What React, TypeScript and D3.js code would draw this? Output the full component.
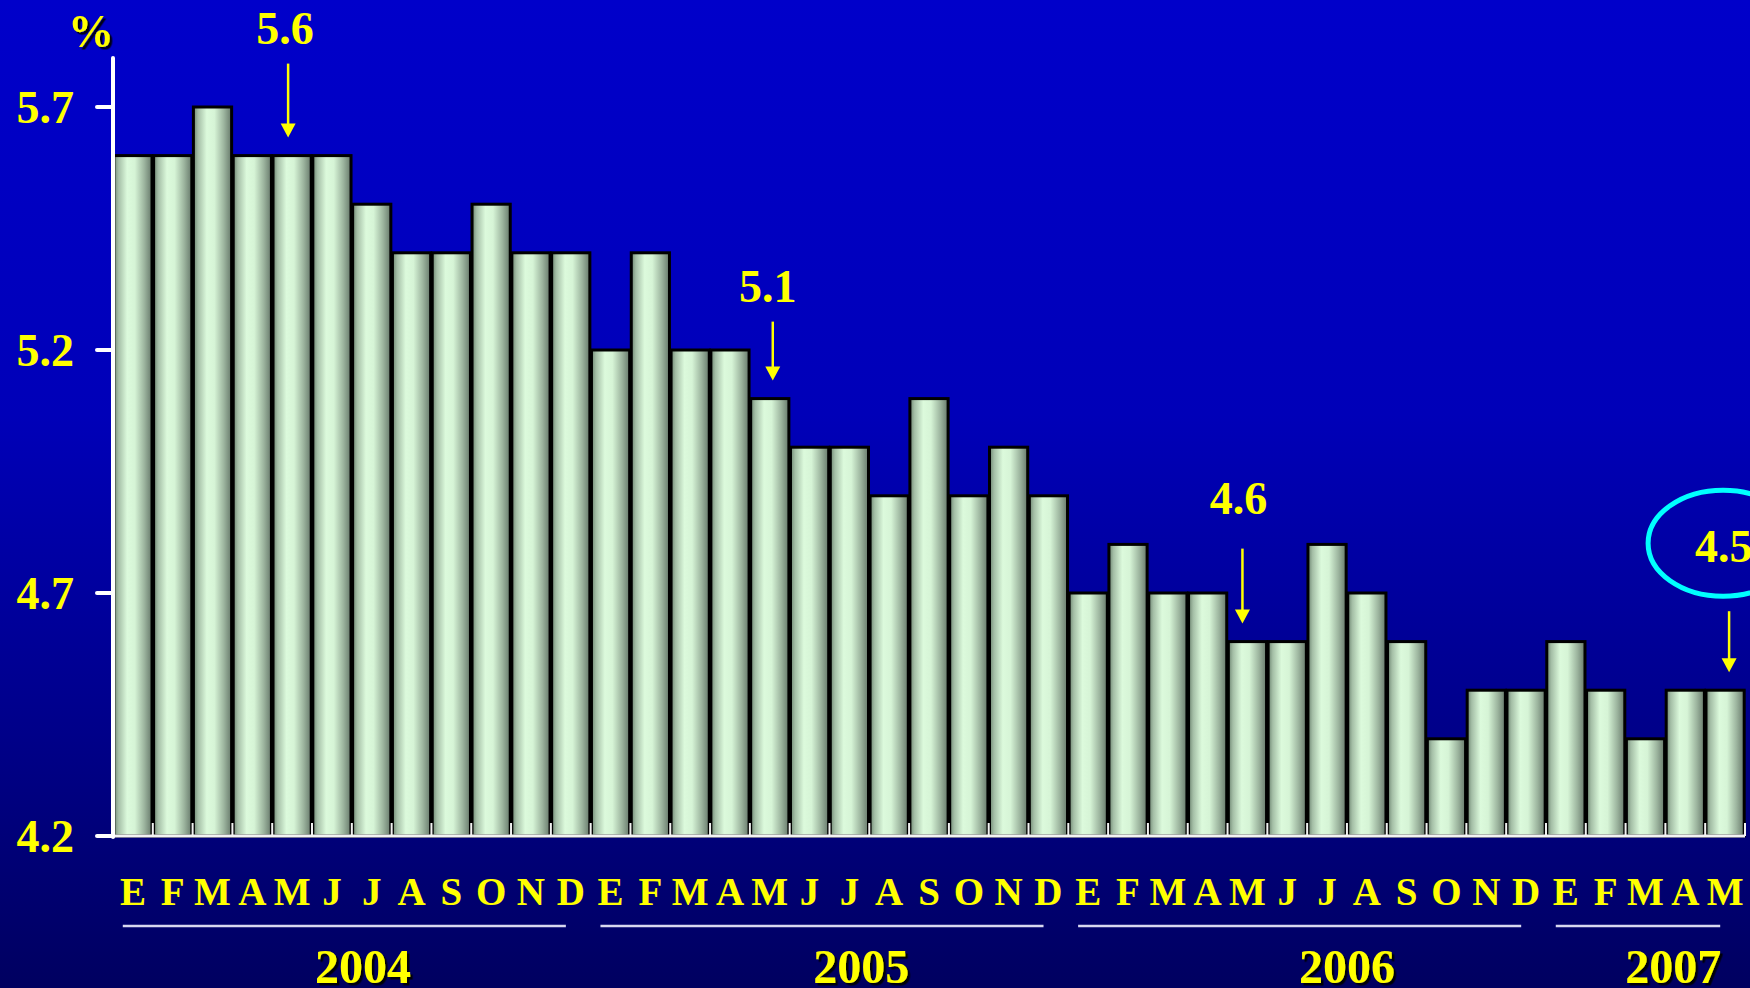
import React, { useEffect } from "react";
import * as d3 from "d3";

const months = ["E", "F", "M", "A", "M", "J", "J", "A", "S", "O", "N", "D"];
const years = ["2004", "2005", "2006", "2007"];
const values2004 = [5.6, 5.6, 5.7, 5.6, 5.6, 5.6, 5.5, 5.4, 5.4, 5.5, 5.4, 5.4];
const values2005 = [5.2, 5.4, 5.2, 5.2, 5.1, 5.0, 5.0, 4.9, 5.1, 4.9, 5.0, 4.9];
const values2006 = [4.7, 4.8, 4.7, 4.7, 4.6, 4.6, 4.8, 4.7, 4.6, 4.4, 4.5, 4.5];
const values2007 = [4.6, 4.5, 4.4, 4.5, 4.5];
const yTicks = [4.2, 4.7, 5.2, 5.7];
const callouts = [
  { year: "2004", month: 4, label: "5.6" },
  { year: "2005", month: 4, label: "5.1" },
  { year: "2006", month: 4, label: "4.6" },
  { year: "2007", month: 4, label: "4.5" },
];

const W = 1750;
const H = 988;
const FONT = "'Liberation Serif', 'Times New Roman', serif";
const YELLOW = "#FFFF00";

export default function App() {
  useEffect(() => {
    document.body.style.margin = "0";
  }, []);

  const series = [values2004, values2005, values2006, values2007];
  const bars: { key: string; year: string; month: string; mi: number; value: number; i: number }[] = [];
  series.forEach((vals, yi) => {
    vals.forEach((v, mi) => {
      bars.push({ key: `${years[yi]}-${mi}`, year: years[yi], month: months[mi], mi, value: v, i: bars.length });
    });
  });

  const x = d3
    .scaleBand<string>()
    .domain(bars.map((b) => b.key))
    .range([113, 1745])
    .paddingInner(0.04)
    .paddingOuter(0.02);
  const step = x.step();
  const bw = x.bandwidth();
  const y = d3.scaleLinear().domain([4.2, 5.7]).range([836, 107]);
  const y0 = y(4.2);

  // per-callout layout (arrow length, text gap, horizontal nudges)
  const calloutLayout = [
    { arrowLen: 74, textGap: 20, tdx: -7, adx: -4 },
    { arrowLen: 59, textGap: 20, tdx: -2, adx: 3 },
    { arrowLen: 75, textGap: 35, tdx: -9, adx: -5 },
    { arrowLen: 61, textGap: 49, tdx: 0, adx: 4 },
  ];
  // year label positions, as fractional bar index from the year's first bar
  const yearLabelOffset = [6.28, 6.8, 7.0, 3.2];

  const yearGroups = years.map((yr, yi) => {
    const yb = bars.filter((b) => b.year === yr);
    const first = x(yb[0].key)!;
    const last = x(yb[yb.length - 1].key)!;
    const start = first - (step - bw) / 2;
    return {
      yr,
      x1: first + 9,
      x2: last + bw - 24,
      cx: start + yearLabelOffset[yi] * step,
    };
  });

  const boundaries = bars.map((b) => x(b.key)! + bw + (step - bw) / 2);

  return (
    <svg width={W} height={H} style={{ display: "block", position: "absolute", left: 0, top: 0 }}>
      <defs>
        <linearGradient id="bg" x1="0" y1="0" x2="0" y2="1">
          <stop offset="0" stopColor="#0000CA" />
          <stop offset="0.42" stopColor="#0000B8" />
          <stop offset="0.75" stopColor="#000088" />
          <stop offset="1" stopColor="#000060" />
        </linearGradient>
        <linearGradient id="bar" x1="0" y1="0" x2="1" y2="0">
          <stop offset="0" stopColor="#6C8470" />
          <stop offset="0.12" stopColor="#A4BEA6" />
          <stop offset="0.35" stopColor="#DCFADC" />
          <stop offset="0.55" stopColor="#D6F4D6" />
          <stop offset="0.8" stopColor="#9CB49E" />
          <stop offset="1" stopColor="#66786A" />
        </linearGradient>
        <filter id="shadow" x="-20%" y="-20%" width="140%" height="140%">
          <feDropShadow dx="2.5" dy="2.5" stdDeviation="0.6" floodColor="#000000" floodOpacity="0.9" />
        </filter>
      </defs>
      <rect x={0} y={0} width={W} height={H} fill="url(#bg)" />

      {/* bars */}
      {bars.map((b) => (
        <rect
          key={b.key}
          x={x(b.key)!}
          y={y(b.value)}
          width={bw}
          height={y0 - y(b.value)}
          fill="url(#bar)"
          stroke="#000"
          strokeWidth={3}
        />
      ))}

      {/* x axis */}
      <line x1={113} x2={1745} y1={y0} y2={y0} stroke="#F2F2F2" strokeWidth={3} />
      {boundaries.map((bx, i) => (
        <line key={i} x1={bx} x2={bx} y1={y0} y2={y0 - 13} stroke="#F2F2F2" strokeWidth={2} />
      ))}

      {/* y axis */}
      <line x1={113} x2={113} y1={58} y2={y0 + 1} stroke="#FFFFFF" strokeWidth={4} strokeLinecap="round" />
      {yTicks.map((t) => (
        <g key={t}>
          <line x1={97} x2={113} y1={y(t)} y2={y(t)} stroke="#FFFFFF" strokeWidth={4} strokeLinecap="round" />
          <text
            x={74}
            y={y(t)}
            dy="0.34em"
            textAnchor="end"
            fontFamily={FONT}
            fontWeight="bold"
            fontSize={46}
            fill={YELLOW}
          >
            {t.toFixed(1)}
          </text>
        </g>
      ))}
      <text x={91} y={47} textAnchor="middle" fontFamily={FONT} fontWeight="bold" fontSize={46} fill={YELLOW} filter="url(#shadow)">
        %
      </text>

      {/* month labels */}
      {bars.map((b) => (
        <text
          key={"m" + b.key}
          x={x(b.key)! + bw / 2}
          y={905}
          textAnchor="middle"
          fontFamily={FONT}
          fontWeight="bold"
          fontSize={39}
          fill={YELLOW}
        >
          {b.month}
        </text>
      ))}

      {/* year underlines and labels */}
      {yearGroups.map((g) => (
        <g key={g.yr}>
          <line x1={g.x1} x2={g.x2} y1={926} y2={926} stroke="#D8D8F0" strokeWidth={2.5} />
          <text x={g.cx} y={983} textAnchor="middle" fontFamily={FONT} fontWeight="bold" fontSize={48} fill={YELLOW} filter="url(#shadow)">
            {g.yr}
          </text>
        </g>
      ))}

      {/* callouts */}
      {callouts.map((c, ci) => {
        const b = bars.find((bb) => bb.year === c.year && bb.mi === c.month)!;
        const L = calloutLayout[ci];
        const cx = x(b.key)! + bw / 2;
        const ax = cx + L.adx;
        const tip = y(b.value) - 18;
        const top = tip - L.arrowLen;
        const isLast = ci === callouts.length - 1;
        return (
          <g key={ci}>
            <line x1={ax} x2={ax} y1={top} y2={tip - 12} stroke={YELLOW} strokeWidth={2.5} />
            <path d={`M${ax - 7.5},${tip - 14} L${ax + 7.5},${tip - 14} L${ax},${tip} Z`} fill={YELLOW} />
            {isLast ? (
              <>
                <ellipse cx={cx - 2} cy={top - 68} rx={75} ry={53} fill="none" stroke="#00FFFF" strokeWidth={5} />
                <text x={cx - 30} y={top - L.textGap} fontFamily={FONT} fontWeight="bold" fontSize={46} fill={YELLOW}>
                  {c.label}
                </text>
              </>
            ) : (
              <text
                x={cx + L.tdx}
                y={top - L.textGap}
                textAnchor="middle"
                fontFamily={FONT}
                fontWeight="bold"
                fontSize={46}
                fill={YELLOW}
              >
                {c.label}
              </text>
            )}
          </g>
        );
      })}
    </svg>
  );
}
